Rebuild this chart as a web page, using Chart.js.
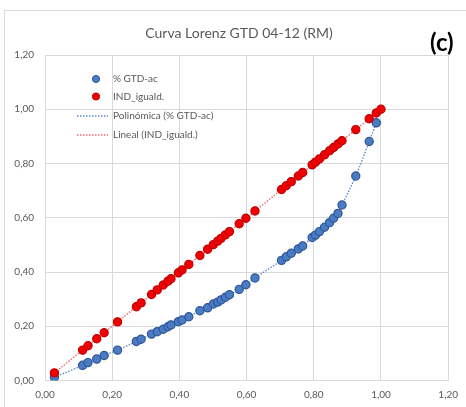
<!DOCTYPE html>
<html>
<head>
<meta charset="utf-8">
<script src="https://cdn.jsdelivr.net/npm/chart.js@4.4.1/dist/chart.umd.min.js"></script>
<style>
  html, body { margin: 0; padding: 0; background: #ffffff; }
  #wrap { width: 466px; height: 407px; }
</style>
</head>
<body>
<div id="wrap"><canvas id="c" width="466" height="407"></canvas></div>
<script>
// Cumulative share of population (x) shared by both series
const popAcum = [0.028, 0.112, 0.128, 0.154, 0.176, 0.216, 0.272, 0.286, 0.317, 0.334,
                 0.352, 0.366, 0.375, 0.397, 0.408, 0.428, 0.461, 0.484, 0.501, 0.514,
                 0.524, 0.537, 0.549, 0.578, 0.598, 0.625, 0.704, 0.718, 0.733, 0.754,
                 0.767, 0.795, 0.805, 0.817, 0.832, 0.847, 0.859, 0.872, 0.884, 0.925,
                 0.965, 0.986, 1.000];
// Cumulative share of GTD (% GTD-ac)
const gtdAcum = [0.012, 0.056, 0.066, 0.079, 0.092, 0.112, 0.144, 0.152, 0.171, 0.180,
                 0.189, 0.198, 0.205, 0.217, 0.223, 0.235, 0.257, 0.268, 0.282, 0.289,
                 0.297, 0.307, 0.316, 0.336, 0.353, 0.378, 0.443, 0.456, 0.469, 0.485,
                 0.496, 0.527, 0.536, 0.549, 0.565, 0.582, 0.598, 0.616, 0.647, 0.754,
                 0.881, 0.950, null];
// Equality line (IND_iguald.)
const indIguald = [0.028, 0.112, 0.128, 0.154, 0.176, 0.216, 0.272, 0.286, 0.317, 0.334,
                   0.352, 0.366, 0.375, 0.397, 0.408, 0.428, 0.461, 0.484, 0.501, 0.514,
                   0.524, 0.537, 0.549, 0.578, 0.598, 0.625, 0.704, 0.718, 0.733, 0.754,
                   0.767, 0.795, 0.805, 0.817, 0.832, 0.847, 0.859, 0.872, 0.884, 0.925,
                   0.965, 0.986, 1.000];
const axisTicks = [0, 0.2, 0.4, 0.6, 0.8, 1.0, 1.2];
const seriesNames = ['% GTD-ac', 'IND_iguald.', 'Polinómica (% GTD-ac)', 'Lineal (IND_iguald.)'];
const chartTitle = 'Curva Lorenz GTD 04-12 (RM)';
const panelTag = '(c)';

const FONT = 'Lato, "Noto Sans", sans-serif';
const GREY = '#595959';

function pts(xs, ys) {
  const out = [];
  xs.forEach((x, i) => { if (ys[i] !== null) out.push({ x: x, y: ys[i] }); });
  return out;
}
const fmt = v => Number(v).toFixed(2).replace('.', ',');

// Frame, title, panel tag and an in-plot legend
const decor = {
  id: 'decor',
  beforeDraw(chart) {
    const ctx = chart.ctx;
    ctx.save();
    ctx.fillStyle = '#ffffff';
    ctx.fillRect(0, 0, chart.width, chart.height);
    ctx.strokeStyle = '#d9d9d9';
    ctx.lineWidth = 1;
    ctx.strokeRect(4.5, 10.5, chart.width + 10, chart.height + 10);
    ctx.restore();
  },
  afterDraw(chart) {
    const ctx = chart.ctx;
    const area = chart.chartArea;
    ctx.save();
    ctx.textBaseline = 'middle';
    ctx.fillStyle = GREY;
    ctx.font = '14px ' + FONT;
    ctx.textAlign = 'center';
    ctx.fillText(chartTitle, 239, 33);
    ctx.fillStyle = '#000000';
    ctx.font = 'bold 24px ' + FONT;
    ctx.textAlign = 'left';
    ctx.fillText(panelTag, 430, 43);

    // legend rows
    const rows = [79, 96.5, 116, 135];
    const ds = chart.data.datasets;
    ctx.font = '10px ' + FONT;
    rows.forEach((y, i) => {
      const d = ds[i];
      if (d.showLine) {
        ctx.save();
        ctx.strokeStyle = d.borderColor;
        ctx.lineWidth = d.borderWidth;
        ctx.setLineDash(d.borderDash);
        ctx.beginPath();
        ctx.moveTo(area.left + 32, y);
        ctx.lineTo(area.left + 63, y);
        ctx.stroke();
        ctx.restore();
      } else {
        ctx.beginPath();
        ctx.arc(area.left + 51, y, 3.6, 0, Math.PI * 2);
        ctx.fillStyle = d.backgroundColor;
        ctx.fill();
        ctx.lineWidth = 1;
        ctx.strokeStyle = d.borderColor;
        ctx.stroke();
      }
      ctx.fillStyle = GREY;
      ctx.textAlign = 'left';
      ctx.fillText(d.label, area.left + 68, y);
    });
    ctx.restore();
  }
};

new Chart(document.getElementById('c'), {
  type: 'scatter',
  data: {
    datasets: [
      {
        label: seriesNames[0],
        data: pts(popAcum, gtdAcum),
        showLine: false,
        pointRadius: 4.1,
        pointHoverRadius: 4.1,
        backgroundColor: '#4A7CC4',
        borderColor: '#2F5597',
        borderWidth: 1.2,
        order: 1
      },
      {
        label: seriesNames[1],
        data: pts(popAcum, indIguald),
        showLine: false,
        pointRadius: 4.1,
        pointHoverRadius: 4.1,
        backgroundColor: '#F00000',
        borderColor: '#C00000',
        borderWidth: 1.2,
        order: 0
      },
      {
        label: seriesNames[2],
        data: pts(popAcum, gtdAcum),
        showLine: true,
        pointRadius: 0,
        borderColor: '#5B8BD0',
        borderWidth: 1.4,
        borderDash: [1.5, 1.5],
        cubicInterpolationMode: 'monotone',
        fill: false,
        order: 3
      },
      {
        label: seriesNames[3],
        data: pts(popAcum, indIguald),
        showLine: true,
        pointRadius: 0,
        borderColor: '#F06A75',
        borderWidth: 1.4,
        borderDash: [1.5, 1.5],
        fill: false,
        order: 2
      }
    ]
  },
  options: {
    responsive: false,
    animation: false,
    events: [],
    layout: { padding: { left: 0, right: 16, top: 55, bottom: 0 } },
    plugins: {
      legend: { display: false },
      title: { display: false },
      tooltip: { enabled: false }
    },
    scales: {
      x: {
        type: 'linear',
        min: axisTicks[0],
        max: axisTicks[axisTicks.length - 1],
        afterBuildTicks: s => { s.ticks = axisTicks.map(v => ({ value: v })); },
        afterFit: s => { s.height = 26.5; },
        ticks: { callback: v => fmt(v), color: GREY, font: { family: FONT, size: 10 }, padding: 8, maxRotation: 0 },
        grid: { color: '#d9d9d9', drawTicks: false },
        border: { color: '#d9d9d9' }
      },
      y: {
        type: 'linear',
        min: axisTicks[0],
        max: axisTicks[axisTicks.length - 1],
        afterBuildTicks: s => { s.ticks = axisTicks.map(v => ({ value: v })); },
        afterFit: s => { s.width = 45; },
        ticks: { callback: v => fmt(v), color: GREY, font: { family: FONT, size: 10 }, padding: 11 },
        grid: { color: '#d9d9d9', drawTicks: false },
        border: { color: '#d9d9d9' }
      }
    }
  },
  plugins: [decor]
});
</script>
</body>
</html>
